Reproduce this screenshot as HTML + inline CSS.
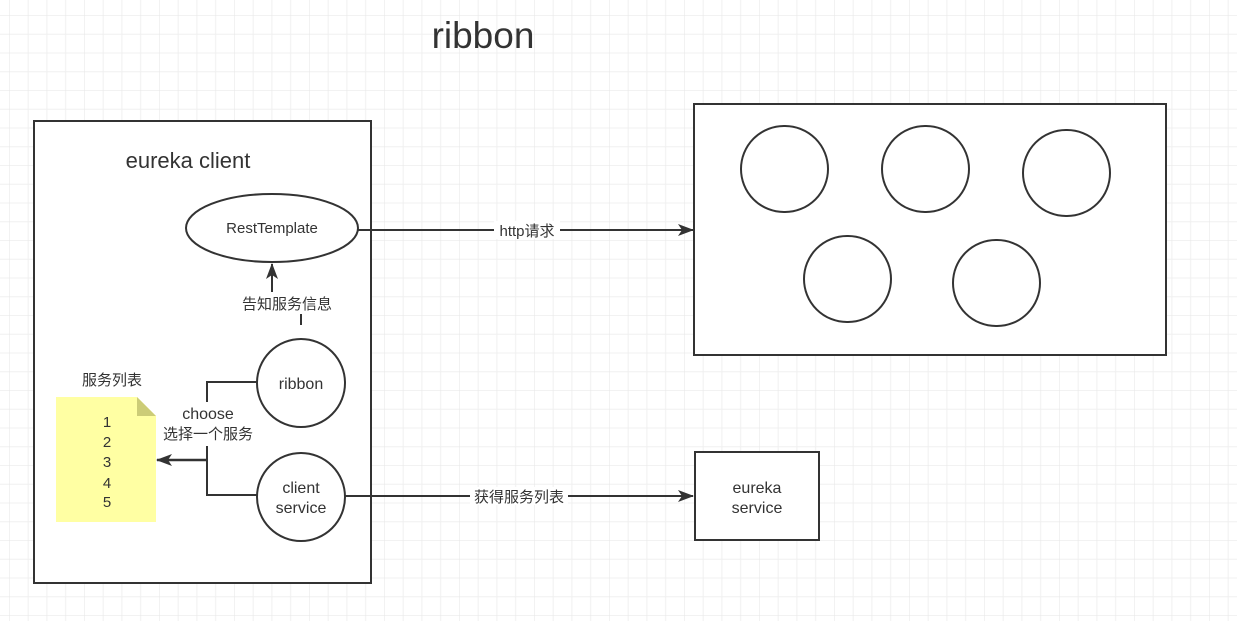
<!DOCTYPE html>
<html><head><meta charset="utf-8"><style>
html,body{margin:0;padding:0;background:#fff}
svg{display:block}
text{font-family:"Liberation Sans","Noto Sans CJK SC",sans-serif;fill:#333}
</style></head><body>
<svg width="1237" height="621" viewBox="0 0 1237 621" xmlns="http://www.w3.org/2000/svg">
<defs>
<pattern id="g" x="9.4" y="15.5" width="75" height="75" patternUnits="userSpaceOnUse">
<path d="M18.75 0V75M37.5 0V75M56.25 0V75M0 18.75H75M0 37.5H75M0 56.25H75" stroke="#f0f0f0" stroke-width="1" fill="none"/>
<path d="M0 0V75M0 0H75" stroke="#e6e6e6" stroke-width="1" fill="none"/>
</pattern>
<marker id="a" markerWidth="16" markerHeight="12" refX="15" refY="6" orient="auto" markerUnits="userSpaceOnUse"><path d="M0,0 L16,6 L0,12 L4,6 Z" fill="#333"/></marker>
</defs>
<rect width="1237" height="621" fill="url(#g)"/>
<text x="483" y="48" font-size="37" text-anchor="middle" fill="#111">ribbon</text>
<rect x="34" y="121" width="337" height="462" fill="#fff" stroke="#333" stroke-width="2"/>
<text x="188" y="168" font-size="22" text-anchor="middle">eureka client</text>
<ellipse cx="272" cy="228" rx="86" ry="34" fill="#fff" stroke="#333" stroke-width="2"/>
<text x="272" y="233" font-size="15" text-anchor="middle">RestTemplate</text>
<line x1="301" y1="325" x2="301" y2="314" stroke="#333" stroke-width="2"/>
<line x1="272" y1="292" x2="272" y2="264" stroke="#333" stroke-width="2" marker-end="url(#a)"/>
<text x="287" y="309" font-size="15" text-anchor="middle">告知服务信息</text>
<circle cx="301" cy="383" r="44" fill="#fff" stroke="#333" stroke-width="2"/>
<text x="301" y="389" font-size="16" text-anchor="middle">ribbon</text>
<circle cx="301" cy="497" r="44" fill="#fff" stroke="#333" stroke-width="2"/>
<text x="301" y="493" font-size="16" text-anchor="middle">client</text>
<text x="301" y="513" font-size="16" text-anchor="middle">service</text>
<path d="M257 382H207V402M207 446V495H257" fill="none" stroke="#333" stroke-width="2"/>
<line x1="207" y1="460" x2="157" y2="460" stroke="#333" stroke-width="2.5" marker-end="url(#a)"/>
<text x="208" y="419" font-size="16" text-anchor="middle">choose</text>
<text x="208" y="439" font-size="15" text-anchor="middle">选择一个服务</text>
<text x="112" y="385" font-size="15" text-anchor="middle">服务列表</text>
<path d="M56 397H137L156 416V522H56Z" fill="#ffff99" opacity="0.9"/>
<path d="M137 397V416H156Z" fill="#cccc77"/>
<g font-size="15" text-anchor="middle">
<text x="107" y="427">1</text><text x="107" y="447">2</text><text x="107" y="467">3</text><text x="107" y="488">4</text><text x="107" y="507">5</text>
</g>
<line x1="358" y1="230" x2="693" y2="230" stroke="#333" stroke-width="2" marker-end="url(#a)"/>
<rect x="494" y="221" width="66" height="18" fill="#fff"/>
<text x="527" y="236" font-size="15" text-anchor="middle">http请求</text>
<rect x="694" y="104" width="472" height="251" fill="#fff" stroke="#333" stroke-width="2"/>
<g fill="#fff" stroke="#333" stroke-width="2">
<rect x="741" y="126" width="87" height="86" rx="43"/>
<rect x="882" y="126" width="87" height="86" rx="43"/>
<rect x="1023" y="130" width="87" height="86" rx="43"/>
<rect x="804" y="236" width="87" height="86" rx="43"/>
<rect x="953" y="240" width="87" height="86" rx="43"/>
</g>
<line x1="345" y1="496" x2="693" y2="496" stroke="#333" stroke-width="2" marker-end="url(#a)"/>
<rect x="470" y="487" width="98" height="18" fill="#fff"/>
<text x="519" y="502" font-size="15" text-anchor="middle">获得服务列表</text>
<rect x="695" y="452" width="124" height="88" fill="#fff" stroke="#333" stroke-width="2"/>
<text x="757" y="493" font-size="16" text-anchor="middle">eureka</text>
<text x="757" y="513" font-size="16" text-anchor="middle">service</text>
</svg>
</body></html>
